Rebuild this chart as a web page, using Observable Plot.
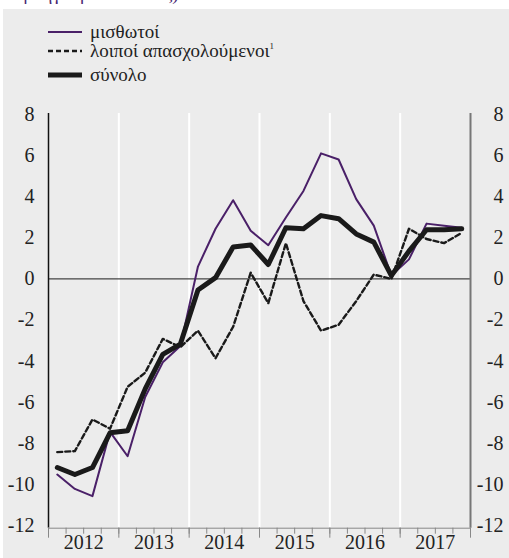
<!DOCTYPE html>
<html><head><meta charset="utf-8">
<script src="https://cdn.jsdelivr.net/npm/d3@7"></script>
<script src="https://cdn.jsdelivr.net/npm/@observablehq/plot@0.6"></script>
<style>
body{margin:0;background:#fff;font-family:"Liberation Serif",serif;}
#title{height:9px;overflow:hidden;position:relative;}
#title span{position:absolute;left:14px;top:-17px;font-size:19px;line-height:22px;color:#4b2a72;white-space:nowrap;}
#panel{margin-left:3px;background:#ececec;width:506px;height:549px;position:relative;overflow:hidden;}
.row{position:absolute;left:45px;height:18px;line-height:18px;display:flex;align-items:center;font-size:19px;color:#222;white-space:nowrap;}
.row svg{margin-right:8px;}
.row sup{font-size:9px;line-height:0;vertical-align:8px;}
#chart{position:absolute;left:0;top:91px;}
</style></head>
<body>
<div id="title"><span>προηγούμενου έτους)</span></div>
<div id="panel">
  <div id="legend"></div>
  <div id="chart"></div>
</div>
<script>
const periods = ["2012 Q1","2012 Q2","2012 Q3","2012 Q4","2013 Q1","2013 Q2","2013 Q3","2013 Q4",
  "2014 Q1","2014 Q2","2014 Q3","2014 Q4","2015 Q1","2015 Q2","2015 Q3","2015 Q4",
  "2016 Q1","2016 Q2","2016 Q3","2016 Q4","2017 Q1","2017 Q2","2017 Q3","2017 Q4"];
const employees = [-9.52,-10.22,-10.57,-7.44, -8.63,-5.75,-4.06,-3.27, 0.60,2.44,3.83,2.34,
  1.64,2.99,4.28,6.11, 5.81,3.88,2.59,0.16, 0.95,2.69,2.59,2.49];
const otherEmployed = [-8.43,-8.38,-6.84,-7.29, -5.25,-4.56,-2.92,-3.32, -2.52,-3.86,-2.33,0.30,
  -1.18,1.74,-1.08,-2.52, -2.23,-1.08,0.21,0.0, 2.44,1.94,1.74,2.24];
const total = [-9.18,-9.52,-9.18,-7.49, -7.39,-5.35,-3.67,-3.17, -0.54,0.06,1.55,1.65,
  0.70,2.49,2.44,3.08, 2.93,2.19,1.79,0.16, 1.35,2.39,2.39,2.44];
const seriesNames = ["μισθωτοί","λοιποί απασχολούμενοι","σύνολο"];
const yearLabels = ["2012","2013","2014","2015","2016","2017"];
const yTicks = [-12,-10,-8,-6,-4,-2,0,2,4,6,8];

const toX = p => { const [y,q] = p.split(" Q"); return +y + (+q - 0.5)/4; };
const mk = vals => periods.map((p,i)=>({x:toX(p), v:vals[i]}));
const dEmp = mk(employees), dOth = mk(otherEmployed), dTot = mk(total);
const yearStart = +yearLabels[0], yearEnd = +yearLabels[yearLabels.length-1] + 1;
const years = d3.range(yearStart, yearEnd + 1);
const quarterBounds = d3.range(0, (yearEnd-yearStart)*4 + 1).map(i => yearStart + i/4);

const purple = "#4a2068";
const styles = [
  {stroke: purple, width: 2, dash: null},
  {stroke: "#1a1a1a", width: 2.4, dash: "5,3"},
  {stroke: "#1a1a1a", width: 5, dash: null}
];
const serif = "Liberation Serif";

const legendTops = [14, 33, 57];
const legend = document.getElementById("legend");
seriesNames.forEach((n,i)=>{
  const row = document.createElement("div");
  row.className = "row"; row.style.top = legendTops[i] + "px";
  const s = styles[i];
  row.innerHTML = `<svg width="34" height="10"><line x1="0" x2="34" y1="5" y2="5" stroke="${s.stroke}" stroke-width="${s.width}" ${s.dash?`stroke-dasharray="${s.dash}"`:""}/></svg><span>${n}${i===1?"<sup>1</sup>":""}</span>`;
  legend.appendChild(row);
});

const chart = Plot.plot({
  width: 506, height: 458,
  marginTop: 14, marginBottom: 33, marginLeft: 45, marginRight: 39,
  style: {background: "transparent", fontFamily: serif, color: "#222"},
  x: {domain: [yearStart, yearEnd], axis: null},
  y: {domain: [-12, 8], axis: null},
  marks: [
    Plot.ruleX(years.slice(1, -1), {stroke: "#fff", strokeWidth: 2, insetTop: -1, insetBottom: -2.7}),
    Plot.ruleY([0], {stroke: "#444", strokeWidth: 1.2}),
    Plot.ruleX([yearStart], {stroke: "#111", strokeWidth: 1.5, insetTop: -1, insetBottom: -2.7}),
    Plot.ruleX([yearEnd], {stroke: "#777", strokeWidth: 2, insetTop: -1, insetBottom: -2.7}),
    Plot.ruleY([-12], {stroke: "#888", strokeWidth: 1, dy: 2.7}),
    Plot.axisX({ticks: quarterBounds, tickSize: 6, tickFormat: () => "", label: null, stroke: "#888", dy: 2.7}),
    Plot.axisX({ticks: years, tickSize: 10, tickFormat: () => "", label: null, stroke: "#888", dy: 2.7}),
    Plot.text(yTicks, {y: d => d, frameAnchor: "left", dx: -14, textAnchor: "end", fontSize: 20, text: d => String(d), fill: "#222", fontFamily: serif}),
    Plot.text(yTicks, {y: d => d, frameAnchor: "right", dx: 33, textAnchor: "end", fontSize: 20, text: d => String(d), fill: "#222", fontFamily: serif}),
    Plot.text(yearLabels, {x: d => +d + 0.5, frameAnchor: "bottom", dy: 23, fontSize: 20, text: d => d, fill: "#222", fontFamily: serif}),
    Plot.line(dEmp, {x: "x", y: "v", stroke: styles[0].stroke, strokeWidth: styles[0].width}),
    Plot.line(dOth, {x: "x", y: "v", stroke: styles[1].stroke, strokeWidth: styles[1].width, strokeDasharray: styles[1].dash}),
    Plot.line(dTot, {x: "x", y: "v", stroke: styles[2].stroke, strokeWidth: styles[2].width})
  ]
});
document.getElementById("chart").appendChild(chart);
</script>
</body></html>
